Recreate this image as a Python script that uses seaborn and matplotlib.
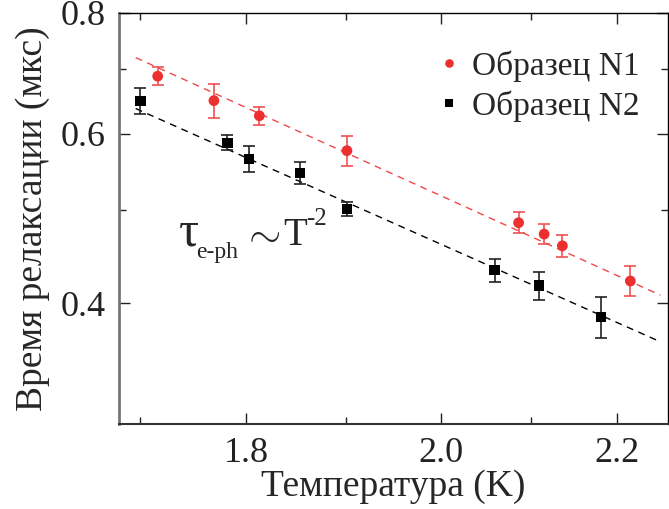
import matplotlib
matplotlib.use('Agg')
import matplotlib.pyplot as plt
import numpy as np
import pandas as pd
import seaborn as sns
from matplotlib.ticker import FixedLocator, FormatStrFormatter, NullFormatter

# sample N1 (red circles)
t_n1 = [1.716, 1.769, 1.813, 1.901, 2.086, 2.115, 2.136, 2.216]
tau_n1 = [0.688, 0.649, 0.626, 0.576, 0.485, 0.472, 0.459, 0.422]
err_n1 = [0.015, 0.027, 0.013, 0.021, 0.012, 0.0115, 0.0125, 0.015]

# sample N2 (black squares)
t_n2 = [1.700, 1.782, 1.803, 1.853, 1.901, 2.059, 2.109, 2.181]
tau_n2 = [0.649, 0.587, 0.565, 0.546, 0.501, 0.433, 0.4175, 0.387]
err_n2 = [0.020, 0.0107, 0.018, 0.014, 0.008, 0.0115, 0.014, 0.019]

# T^-2 guide lines (end points)
fit_t = [1.6957, 2.2524]
fit_n1 = [0.7192, 0.408]
fit_n2 = [0.6369, 0.365]

labels = ['Образец N1', 'Образец N2']
RED = '#ec3030'

sns.set_theme(style='ticks')
plt.rcParams['font.family'] = 'serif'
plt.rcParams['font.serif'] = ['Liberation Serif', 'DejaVu Serif']
plt.rcParams['mathtext.fontset'] = 'custom'
plt.rcParams['mathtext.rm'] = 'Liberation Serif'
plt.rcParams['mathtext.it'] = 'Liberation Serif:italic'

fig = plt.figure(figsize=(6.69, 5.09), dpi=100)
ax = fig.add_axes([118.5 / 669, 1 - 424 / 509, (668 - 118.5) / 669, (424 - 13) / 509])

df = pd.DataFrame({
    'T': t_n1 + t_n2,
    'tau': tau_n1 + tau_n2,
    'sample': [labels[0]] * len(t_n1) + [labels[1]] * len(t_n2),
})

sns.lineplot(x=fit_t, y=fit_n1, ax=ax, color='#f04848', lw=1.0, linestyle=(0, (5, 4)))
sns.lineplot(x=fit_t, y=fit_n2, ax=ax, color='black', lw=1.0, linestyle=(0, (5, 4)))

ax.errorbar(t_n1, tau_n1, yerr=err_n1, fmt='none', ecolor='#f05050', elinewidth=1.2, capsize=4, capthick=1.2)
ax.errorbar(t_n2, tau_n2, yerr=err_n2, fmt='none', ecolor='#222222', elinewidth=1.2, capsize=4, capthick=1.2)

sns.scatterplot(data=df, x='T', y='tau', hue='sample', style='sample', size='sample', ax=ax,
                palette={labels[0]: RED, labels[1]: 'black'},
                markers={labels[0]: 'o', labels[1]: 's'},
                sizes={labels[0]: 60, labels[1]: 55},
                linewidth=0, zorder=5)

ax.set_xscale('log')
ax.set_yscale('log')
ax.set_xlim(1.68, 2.2616)
ax.set_ylim(0.3, 0.8)

ax.xaxis.set_major_locator(FixedLocator([1.8, 2.0, 2.2]))
ax.xaxis.set_minor_locator(FixedLocator([1.7, 1.9, 2.1]))
ax.yaxis.set_major_locator(FixedLocator([0.4, 0.6, 0.8]))
ax.yaxis.set_minor_locator(FixedLocator([0.5, 0.7]))
ax.xaxis.set_major_formatter(FormatStrFormatter('%.1f'))
ax.yaxis.set_major_formatter(FormatStrFormatter('%.1f'))
ax.xaxis.set_minor_formatter(NullFormatter())
ax.yaxis.set_minor_formatter(NullFormatter())

ax.tick_params(which='both', direction='in', top=True, right=True, colors='#222222',
               labelsize=26, labelcolor='#222222')
ax.tick_params(which='major', length=8, width=1.0, pad=9)
ax.tick_params(which='minor', length=5, width=1.0)

for side in ['top', 'right']:
    ax.spines[side].set_color('black')
    ax.spines[side].set_linewidth(1.0)
ax.spines['left'].set_color('#777777')
ax.spines['left'].set_linewidth(2.0)
ax.spines['bottom'].set_color('#333333')
ax.spines['bottom'].set_linewidth(1.5)

ax.set_xlabel('Температура (K)', fontsize=27, labelpad=0)
ax.set_ylabel('Время релаксации (мкс)', fontsize=27, labelpad=8)

# tau_e-ph ~ T^-2 annotation, assembled piece by piece
ax.text(0.110, 0.4355, 'τ', transform=ax.transAxes, fontsize=36, va='baseline')
ax.text(0.141, 0.405, 'e-ph', transform=ax.transAxes, fontsize=17, va='baseline')
ax.text(0.224, 0.4355, r'$\sim$', transform=ax.transAxes, fontsize=30, va='baseline')
ax.text(0.300, 0.4355, 'T', transform=ax.transAxes, fontsize=28, va='baseline')
ax.text(0.342, 0.485, '-2', transform=ax.transAxes, fontsize=18, va='baseline')

leg = ax.legend(loc='upper left', bbox_to_anchor=(0.535, 0.95), frameon=False, fontsize=24,
                handletextpad=0.1, labelspacing=0.25, borderpad=0, markerscale=0.8,
                handlelength=1.2)

fig.savefig('out.png', dpi=100)
